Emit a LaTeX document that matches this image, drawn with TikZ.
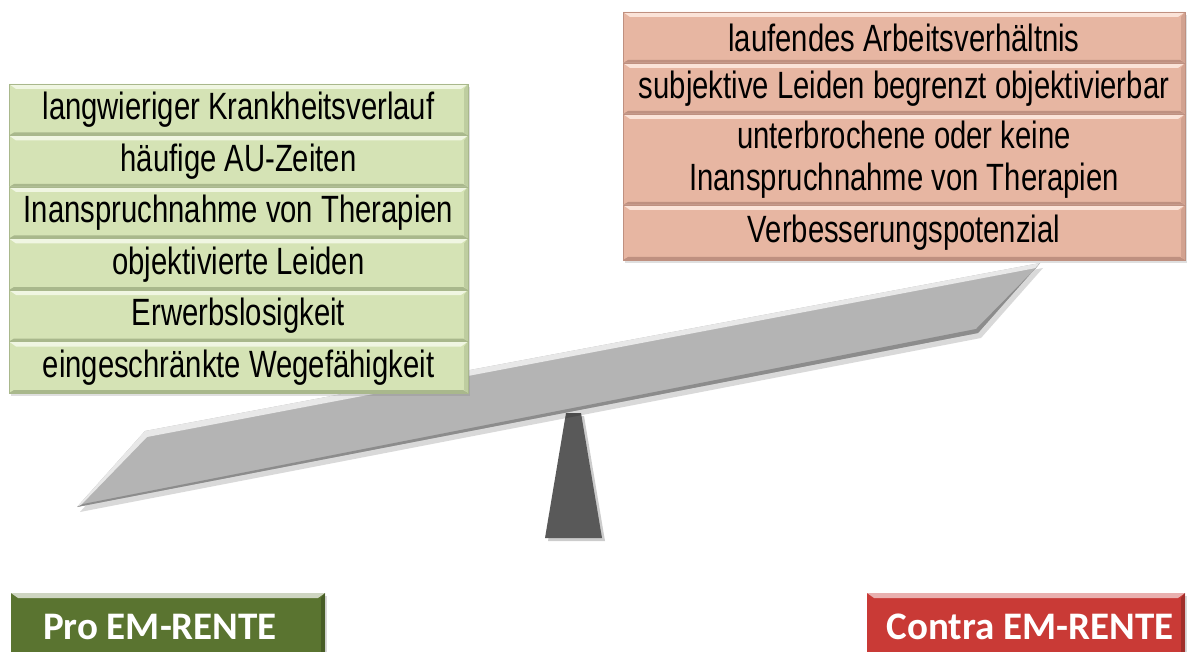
\documentclass[tikz,border=0pt]{standalone}
\usepackage{fontspec}
\setmainfont[FakeStretch=0.77]{Liberation Sans}
\newfontfamily\labelfont{Carlito}
\usetikzlibrary{shadows,calc}
\definecolor{lgreen}{HTML}{D5E3B5}
\definecolor{lgreenhi}{HTML}{F0F6E2}
\definecolor{lgreenlo}{HTML}{A9B88C}
\definecolor{lred}{HTML}{E7B6A2}
\definecolor{lredhi}{HTML}{FBE3D8}
\definecolor{lredlo}{HTML}{BF9080}
\definecolor{dgreen}{HTML}{5A7430}
\definecolor{dred}{HTML}{C93A36}
\definecolor{beamc}{HTML}{B4B4B4}
\definecolor{beamhi}{HTML}{E8E8E8}
\definecolor{beamlo}{HTML}{8C8C8C}
\definecolor{fulc}{HTML}{595959}
\tikzset{
  bevel/.style n args={2}{path picture={
    \fill[#1] (path picture bounding box.north west) -- (path picture bounding box.north east)
      -- ([xshift=-7pt,yshift=-5pt]path picture bounding box.north east)
      -- ([xshift=7pt,yshift=-5pt]path picture bounding box.north west) -- cycle;
    \fill[#2] (path picture bounding box.south west) -- (path picture bounding box.south east)
      -- ([xshift=-5pt,yshift=3pt]path picture bounding box.south east)
      -- ([xshift=5pt,yshift=3pt]path picture bounding box.south west) -- cycle;
    \fill[#2,opacity=.5] (path picture bounding box.north east) -- (path picture bounding box.south east)
      -- ([xshift=-4pt,yshift=3pt]path picture bounding box.south east)
      -- ([xshift=-4pt,yshift=-5pt]path picture bounding box.north east) -- cycle;
  }},
  itembox/.style={rectangle, inner sep=0pt, align=center,
    font=\fontsize{38}{42}\selectfont, text=black,
    drop shadow={shadow xshift=2pt, shadow yshift=-3pt, opacity=.25}},
  probox/.style={itembox, fill=lgreen, draw=lgreenlo, line width=0.6pt,
    minimum width=459pt, minimum height=51.5pt, bevel={lgreenhi}{lgreenlo}},
  conbox/.style={itembox, fill=lred, draw=lredlo, line width=0.6pt,
    minimum width=562pt, bevel={lredhi}{lredlo}},
  labelbox/.style={rectangle, inner sep=0pt,
    drop shadow={shadow xshift=2pt, shadow yshift=-3pt, opacity=.3}},
  labeltext/.style={text=white, font=\labelfont\bfseries\fontsize{39}{42}\selectfont}
}
\begin{document}
\begin{tikzpicture}[x=1pt,y=-1pt]
\useasboundingbox (0,0) rectangle (1188,652);
% fulcrum
\coordinate (f1) at (566,413);
\coordinate (f2) at (581,413);
\coordinate (f3) at (602,538);
\coordinate (f4) at (545,538);
\fill[black,opacity=.2] ($(f1)+(3,3)$) -- ($(f2)+(3,3)$) -- ($(f3)+(3,3)$) -- ($(f4)+(3,3)$) -- cycle;
\fill[fulc] (f1) -- (f2) -- (f3) -- (f4) -- cycle;
% beam
\coordinate (b1) at (145,431);
\coordinate (b2) at (1040,263);
\coordinate (b3) at (978,333);
\coordinate (b4) at (77,507);
\fill[black,opacity=.15] ($(b1)+(3,5)$) -- ($(b2)+(3,5)$) -- ($(b3)+(3,5)$) -- ($(b4)+(3,5)$) -- cycle;
\fill[beamc] (b1) -- (b2) -- (b3) -- (b4) -- cycle;
\fill[beamhi] (b4) -- (b1) -- (b2) -- ($(b2)+(-4,5)$) -- ($(b1)+(2,6)$) -- ($(b4)+(4,-2)$) -- cycle;
\fill[beamlo] (b2) -- (b3) -- (b4) -- ($(b4)+(6,-3)$) -- ($(b3)+(-2,-4)$) -- ($(b2)+(-4,5)$) -- cycle;
% pro items
\node[probox] (p1) at (238.5,109.75) {langwieriger Krankheitsverlauf};
\node[probox] (p2) at (238.5,161.25) {häufige AU-Zeiten};
\node[probox] (p3) at (238.5,212.75) {Inanspruchnahme von Therapien};
\node[probox] (p4) at (238.5,264.25) {objektivierte Leiden};
\node[probox] (p5) at (238.5,315.75) {Erwerbslosigkeit};
\node[probox] (p6) at (238.5,367.25) {eingeschränkte Wegefähigkeit};
% contra items
\node[conbox, minimum height=51pt] (c1) at (904,37.5) {laufendes Arbeitsverhältnis};
\node[conbox, minimum height=51pt] (c2) at (904,88.5) {subjektive Leiden begrenzt objektivierbar};
\node[conbox, minimum height=91pt] (c3) at (904,159.5) {unterbrochene oder keine\\Inanspruchnahme von Therapien};
\node[conbox, minimum height=55pt] (c4) at (904,232.5) {Verbesserungspotenzial};
% labels
\node[labelbox, fill=dgreen, minimum width=314pt, minimum height=66pt,
  bevel={white!70!dgreen}{black!40!dgreen}] (pro) at (168,626) {};
\node[labeltext] (protext) at (160,627) {Pro EM-RENTE};
\node[labelbox, fill=dred, minimum width=318pt, minimum height=66pt,
  bevel={white!60!dred}{black!40!dred}] (con) at (1026,626) {};
\node[labeltext] (context) at (1030,627) {Contra EM-RENTE};
\end{tikzpicture}
\end{document}
